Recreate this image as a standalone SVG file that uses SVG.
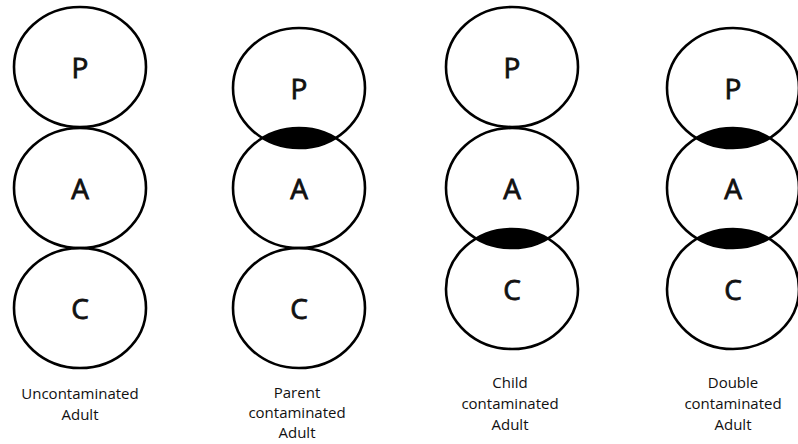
<svg xmlns="http://www.w3.org/2000/svg" width="798" height="444" viewBox="0 0 798 444">
<style>
.c{fill:none;stroke:#000;stroke-width:2.6}
.l{font-family:"Open Sans","Liberation Sans",sans-serif;font-size:28px;fill:#111;stroke:#111;stroke-width:0.8;text-anchor:middle;dominant-baseline:central}
.t{font-family:"Open Sans","Liberation Sans",sans-serif;font-size:15px;fill:#111;text-anchor:middle}
</style>
<defs>
<clipPath id="cp2"><ellipse cx="299" cy="88" rx="66" ry="60"/></clipPath>
<clipPath id="cp3"><ellipse cx="512" cy="188" rx="66" ry="60"/></clipPath>
<clipPath id="cp4a"><ellipse cx="733" cy="88" rx="66" ry="60"/></clipPath>
<clipPath id="cp4b"><ellipse cx="733" cy="188" rx="66" ry="60"/></clipPath>
</defs>
<rect width="798" height="444" fill="#fff"/>
<g id="col1">
<g id="p1"><ellipse class="c" cx="80" cy="67" rx="66" ry="60"/><text class="l" x="80" y="67">P</text></g>
<g id="a1"><ellipse class="c" cx="80" cy="188" rx="66" ry="60"/><text class="l" x="80" y="188">A</text></g>
<g id="c1"><ellipse class="c" cx="80" cy="308" rx="66" ry="60"/><text class="l" x="80" y="308">C</text></g>
<text class="t" x="80" y="399">Uncontaminated</text>
<text class="t" x="80" y="420">Adult</text>
</g>
<g id="col2">
<ellipse cx="299" cy="188" rx="66" ry="60" fill="#000" clip-path="url(#cp2)"/>
<g id="p2"><ellipse class="c" cx="299" cy="88" rx="66" ry="60"/><text class="l" x="299" y="88">P</text></g>
<g id="a2"><ellipse class="c" cx="299" cy="188" rx="66" ry="60"/><text class="l" x="299" y="188">A</text></g>
<g id="c2"><ellipse class="c" cx="299" cy="308" rx="66" ry="60"/><text class="l" x="299" y="308">C</text></g>
<text class="t" x="297" y="398">Parent</text>
<text class="t" x="297" y="418">contaminated</text>
<text class="t" x="297" y="438">Adult</text>
</g>
<g id="col3">
<ellipse cx="512" cy="289" rx="66" ry="60" fill="#000" clip-path="url(#cp3)"/>
<g id="p3"><ellipse class="c" cx="512" cy="67" rx="66" ry="60"/><text class="l" x="512" y="67">P</text></g>
<g id="a3"><ellipse class="c" cx="512" cy="188" rx="66" ry="60"/><text class="l" x="512" y="188">A</text></g>
<g id="c3"><ellipse class="c" cx="512" cy="289" rx="66" ry="60"/><text class="l" x="512" y="289">C</text></g>
<text class="t" x="510" y="388">Child</text>
<text class="t" x="510" y="409">contaminated</text>
<text class="t" x="510" y="430">Adult</text>
</g>
<g id="col4">
<ellipse cx="733" cy="188" rx="66" ry="60" fill="#000" clip-path="url(#cp4a)"/>
<ellipse cx="733" cy="289" rx="66" ry="60" fill="#000" clip-path="url(#cp4b)"/>
<g id="p4"><ellipse class="c" cx="733" cy="88" rx="66" ry="60"/><text class="l" x="733" y="88">P</text></g>
<g id="a4"><ellipse class="c" cx="733" cy="188" rx="66" ry="60"/><text class="l" x="733" y="188">A</text></g>
<g id="c4"><ellipse class="c" cx="733" cy="289" rx="66" ry="60"/><text class="l" x="733" y="289">C</text></g>
<text class="t" x="733" y="388">Double</text>
<text class="t" x="733" y="409">contaminated</text>
<text class="t" x="733" y="430">Adult</text>
</g>
<g id="connectors"/>
</svg>
